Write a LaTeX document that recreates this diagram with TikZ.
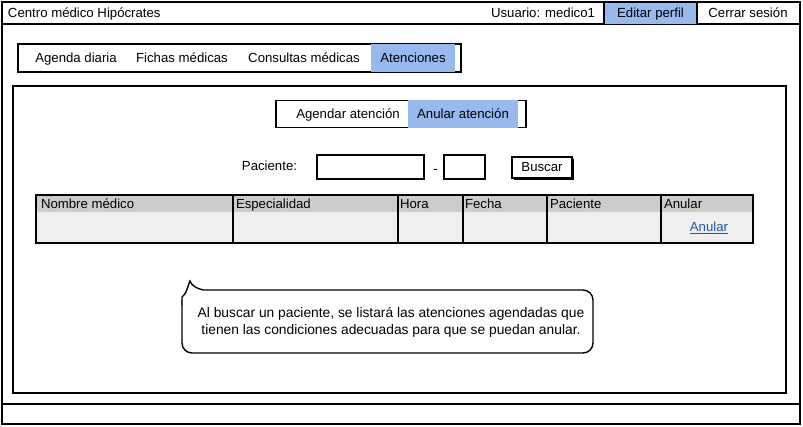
\documentclass[tikz,border=0pt]{standalone}
\usepackage{fontspec}
\setmainfont{Liberation Sans}
\definecolor{selblue}{HTML}{96B9EE}
\definecolor{hdrgray}{HTML}{CCCCCC}
\definecolor{rowgray}{HTML}{EEEEEE}
\definecolor{linkblue}{HTML}{1F56A8}
\begin{document}
\begin{tikzpicture}[x=1pt,y=-1pt,
  every node/.style={font=\fontsize{13.2}{16}\selectfont, inner sep=0pt, outer sep=0pt},
  frame/.style={draw=black, line width=1.5pt, fill=white},
  onel/.style={text height=9.6pt, text depth=1pt},
  selbox/.style={fill=selblue, draw=none, onel},
  lbl/.style={text=black, onel},
  hdr/.style={anchor=west, text=black, onel}]
\useasboundingbox (0,0) rectangle (803,426);
\fill[white] (0,0) rectangle (803,426);

% window
\node[frame, minimum width=798pt, minimum height=402pt] (win) at (401,203) {};
\draw[line width=1.5pt] (2,24) -- (800,24);
\node[frame, minimum width=798pt, minimum height=20pt] (status) at (401,414) {};

% title bar
\node[lbl, anchor=west] (title) at (8,13) {Centro médico Hipócrates};
\node[lbl, anchor=east] (user) at (595,13) {Usuario: medico1};
\node[selbox, minimum width=93pt, minimum height=21pt] (edit) at (650.5,13.5) {Editar perfil};
\draw[line width=1.3pt] (604,3) -- (604,24);
\draw[line width=1.3pt] (697,3) -- (697,24);
\node[lbl] (logout) at (748,13) {Cerrar sesión};

% main tabs
\node[frame, minimum width=443pt, minimum height=28pt] (tabs) at (239.5,58) {};
\node[lbl] (t1) at (76,58) {Agenda diaria};
\node[lbl] (t2) at (182,58) {Fichas médicas};
\node[lbl] (t3) at (304,58) {Consultas médicas};
\node[selbox, minimum width=84pt, minimum height=28pt] (t4) at (413,58) {Atenciones};

% content frame
\node[frame, minimum width=773pt, minimum height=307pt] (content) at (399.5,239.5) {};

% sub tabs
\node[frame, minimum width=250pt, minimum height=27pt] (subtabs) at (401,114) {};
\node[lbl] (s1) at (348,114) {Agendar atención};
\node[selbox, minimum width=110pt, minimum height=28pt] (s2) at (463,114) {Anular atención};

% search row
\node[lbl] (plabel) at (269.5,166) {Paciente:};
\node[frame, minimum width=107pt, minimum height=24pt] (in1) at (370.5,167) {};
\node[lbl] (dash) at (435.5,169) {-};
\node[frame, minimum width=41pt, minimum height=24pt] (in2) at (464.5,167) {};
\fill[black] (514,159) rectangle (574,180);
\node[draw=black, line width=1.2pt, fill=white, minimum width=60pt, minimum height=21pt, onel] (buscar) at (542,167.5) {Buscar};

% table
\fill[rowgray] (36,195) rectangle (753,243);
\fill[hdrgray] (36,195) rectangle (753,212);
\node[draw=black, line width=1.5pt, minimum width=717pt, minimum height=48pt] (table) at (394.5,219) {};
\foreach \xx in {233,398,463,547,661} \draw[line width=1.3pt] (\xx,195) -- (\xx,243);
\node[hdr] (h1) at (41,204) {Nombre médico};
\node[hdr] (h2) at (236,204) {Especialidad};
\node[hdr] (h3) at (400,204) {Hora};
\node[hdr] (h4) at (465,204) {Fecha};
\node[hdr] (h5) at (550,204) {Paciente};
\node[hdr] (h6) at (664,204) {Anular};
\node[text=linkblue, onel] (link) at (709,227) {\underline{Anular}};

% callout
\draw[line width=1.4pt, fill=white, rounded corners=10pt]
  (182,300) -- (182,353) -- (593,353) -- (593,290) -- (203,290);
\draw[line width=1.4pt, fill=white] (203,290) .. controls (196,288) and (192,286) .. (190,281)
  .. controls (188,284) and (188,292) .. (182,297) -- (182,305);
\node[lbl, text height=, text depth=, align=center, font=\fontsize{13.8}{17}\selectfont] (note) at (391,322)
  {Al buscar un paciente, se listará las atenciones agendadas que\\tienen las condiciones adecuadas para que se puedan anular.};
\end{tikzpicture}
\end{document}
